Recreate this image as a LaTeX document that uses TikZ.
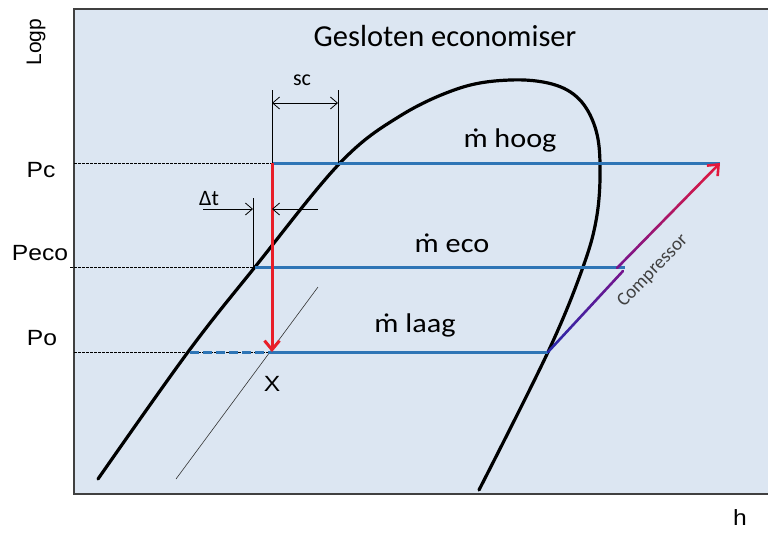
\documentclass[tikz,border=0pt]{standalone}
\usepackage{fontspec}
\setmainfont{Carlito}
\newfontfamily\arialf{Liberation Sans}
\usetikzlibrary{arrows.meta,calc}
\definecolor{bgc}{RGB}{220,230,242}
\definecolor{pblue}{RGB}{46,117,182}
\definecolor{pred}{RGB}{232,30,40}
\definecolor{cblue}{RGB}{40,40,170}
\definecolor{cpurp}{RGB}{120,20,140}
\definecolor{cred}{RGB}{228,25,60}
\newcommand{\hstr}[1]{\scalebox{1.12}[1]{#1}}
\begin{document}
\begin{tikzpicture}[x=1pt,y=-1pt,
  isobar/.style={pblue,line width=3pt},
  guide/.style={black,line width=0.6pt,dash pattern=on 2.5pt off 1.5pt},
  dim/.style={black,line width=0.7pt},
  barb/.style={-{Straight Barb[length=7pt,width=12pt,line width=0.8pt]}},
  lbl/.style={font=\fontsize{27}{30}\selectfont, inner sep=0pt, anchor=base},
  ttl/.style={font=\fontsize{30.5}{33}\selectfont, inner sep=0pt, anchor=base},
  axl/.style={font=\arialf\fontsize{22}{24}\selectfont, inner sep=0pt, anchor=base},
  small/.style={font=\fontsize{22}{24}\selectfont, inner sep=0pt, anchor=base},
  comp/.style={line width=2.6pt, line cap=round},
]
\useasboundingbox (0,0) rectangle (768,533);
\fill[white] (0,0) rectangle (768,533);
\fill[bgc] (74,9) rectangle (768,494);
\draw[line width=1.3pt, draw=black!75] (768,9) -- (74,9) -- (74,494) -- (768,494);

% key points
\coordinate (Lc) at (74,163);
\coordinate (Le) at (70,267);
\coordinate (Lo) at (74,352);
\coordinate (A) at (272,163);
\coordinate (C) at (720,163);
\coordinate (D) at (255,267);
\coordinate (E) at (625,267);
\coordinate (F) at (190,352);
\coordinate (X) at (268,352);
\coordinate (R) at (272,352);
\coordinate (G) at (548,352);
\coordinate (K1) at (623,271);
\coordinate (K2) at (617,268);

% dashed guides
\draw[guide] (Lc) -- (A);
\draw[guide] (Le) -- (D);
\draw[guide] (Lo) -- (X);

% thin line
\coordinate (T1) at (176,479);
\coordinate (T2) at (318,287);
\draw[black!80,line width=0.6pt] (T1) -- (T2);

% saturation dome
\draw[black,line width=3.2pt,line cap=round] plot[smooth,tension=0.6] coordinates
 {(98,479) (188,352) (255,267) (340,163) (400,116) (460,88) (510,80) (552,84) (579,99) (595,127) (600,163) (597,215) (583,267) (548,352) (479,490)};

% isobars
\draw[isobar] (A) -- (C);
\draw[isobar] (D) -- (E);
\draw[isobar, dash pattern=on 9pt off 4pt] (F) -- (X);
\draw[isobar] (X) -- (G);

% red expansion
\draw[pred, line width=3pt, -{Straight Barb[length=9pt,width=15pt,line width=3pt]}] (A) -- (R);

% compressor
\foreach \i in {0,...,19}{
  \pgfmathsetmacro\ta{\i/20}
  \pgfmathsetmacro\tb{(\i+1)/20}
  \pgfmathtruncatemacro\pc{100-\i*5}
  \draw[comp, cblue!\pc!cpurp] ($(G)!\ta!(K1)$) -- ($(G)!\tb!(K1)$);
}
\foreach \i in {0,...,18}{
  \pgfmathsetmacro\ta{\i/20}
  \pgfmathsetmacro\tb{(\i+1)/20}
  \pgfmathtruncatemacro\pc{100-\i*5}
  \draw[comp, cpurp!\pc!cred] ($(K2)!\ta!(C)$) -- ($(K2)!\tb!(C)$);
}
\draw[line width=2.6pt, cred, -{Straight Barb[length=9pt,width=15pt,line width=2.6pt]}] ($(K2)!0.95!(C)$) -- (C);

% sc dimension
\coordinate (S1) at (272,90);
\coordinate (S2) at (338,90);
\coordinate (S3) at (338,163);
\draw[dim] (S1) -- (A);
\draw[dim] (S2) -- (S3);
\coordinate (SM) at (305,103);
\draw[dim,barb] (SM) -- (272,103);
\draw[dim,barb] (SM) -- (338,103);

% delta t dimension
\coordinate (V1) at (253,198);
\coordinate (V2) at (253,267);
\draw[dim] (V1) -- (V2);
\coordinate (W1) at (203,209);
\coordinate (W2) at (318,209);
\draw[dim,barb] (W1) -- (253,209);
\draw[dim,barb] (W2) -- (272,209);

% labels
\node[ttl] (title) at (445,46) {Gesloten economiser};
\node[lbl] (mh) at (510,147) {\hstr{ṁ hoog}};
\node[lbl] (me) at (452,252) {\hstr{ṁ eco}};
\node[lbl] (ml) at (415,332) {\hstr{ṁ laag}};
\node[small] (sc) at (302,85) {sc};
\node[small] (dt) at (209,205) {Δt};
\node[axl] (pc) at (41,177) {\hstr{Pc}};
\node[axl] (pe) at (40,260) {\hstr{Peco}};
\node[axl] (po) at (42,345) {\hstr{Po}};
\node[axl] (xl) at (272,391) {\hstr{X}};
\node[axl] (hl) at (740,525) {\hstr{h}};
\node[font=\arialf\fontsize{21}{24}\selectfont, inner sep=0pt, rotate=90] (lp) at (36,42) {Logp};
\node[font=\fontsize{19}{21}\selectfont, inner sep=0pt, rotate=46, text=black!75] (cl) at (653,271) {Compressor};
\end{tikzpicture}
\end{document}
